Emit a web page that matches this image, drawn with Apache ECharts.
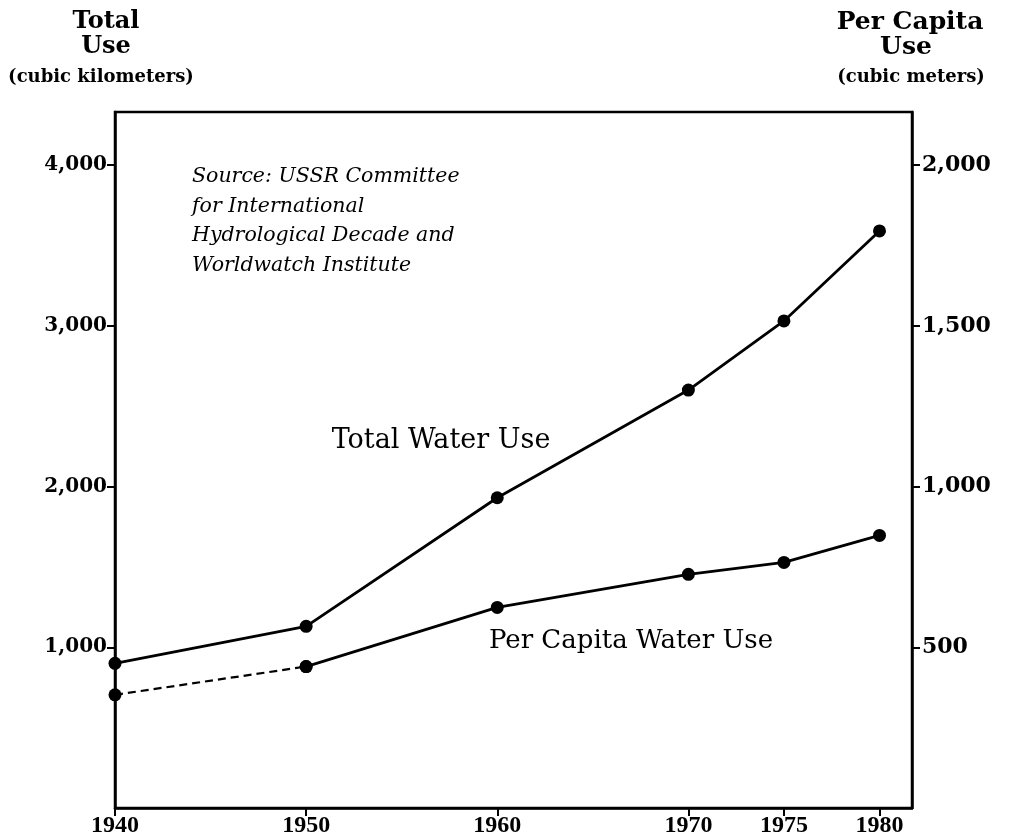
<!DOCTYPE html>
<html>
<head>
<meta charset="utf-8">
<script src="https://cdn.jsdelivr.net/npm/echarts@6/dist/echarts.min.js"></script>
<style>html,body{margin:0;padding:0;background:#fff;}#c{width:1013px;height:838px;}</style>
</head>
<body>
<div id="c"></div>
<script>
const years = [1940, 1950, 1960, 1970, 1975, 1980];
const totalUse = [900, 1130, 1930, 2600, 3030, 3590];
const perCapitaUse = [352, 440, 624, 727, 764, 848];
const xTicks = [1940, 1950, 1960, 1970, 1975, 1980];
const leftTicks = [1000, 2000, 3000, 4000];
const rightTicks = [500, 1000, 1500, 2000];
const sourceLines = ['Source: USSR Committee', 'for International', 'Hydrological Decade and', 'Worldwatch Institute'];

const chart = echarts.init(document.getElementById('c'));
const serif = 'DejaVu Serif';
const fmt = v => v.toLocaleString('en-US');
const pts = (xs, ys) => xs.map((x, i) => [x, ys[i]]);
const totalPts = pts(years, totalUse);
const pcPts = pts(years, perCapitaUse);

chart.setOption({
  animation: false,
  grid: {left: 115, right: 101, top: 112, bottom: 30, show: true, borderColor: '#000', borderWidth: 2.5},
  xAxis: {
    type: 'value', min: 1940, max: 1981.7,
    axisLine: {show: true, lineStyle: {color: '#000', width: 2.5}},
    axisTick: {show: true, length: 8, lineStyle: {color: '#000', width: 2}, customValues: xTicks},
    axisLabel: {customValues: xTicks, color: '#000', fontFamily: 'Liberation Serif', fontWeight: 'bold', fontSize: 24, margin: 6, formatter: v => String(v)},
    splitLine: {show: false}
  },
  yAxis: [
    {
      type: 'value', min: 0, max: 4330, position: 'left',
      axisLine: {show: true, lineStyle: {color: '#000', width: 2.5}},
      axisTick: {show: true, length: 8, lineStyle: {color: '#000', width: 2}, customValues: leftTicks},
      axisLabel: {customValues: leftTicks, color: '#000', fontFamily: serif, fontWeight: 'bold', fontSize: 20, margin: 8, formatter: fmt},
      splitLine: {show: false}
    },
    {
      type: 'value', min: 0, max: 2165, position: 'right',
      axisLine: {show: true, lineStyle: {color: '#000', width: 2.5}},
      axisTick: {show: true, length: 8, lineStyle: {color: '#000', width: 2}, customValues: rightTicks},
      axisLabel: {customValues: rightTicks, color: '#000', fontFamily: serif, fontWeight: 'bold', fontSize: 22, margin: 10, formatter: fmt},
      splitLine: {show: false}
    }
  ],
  series: [
    {type: 'line', yAxisIndex: 0, data: totalPts, symbol: 'circle', symbolSize: 13,
     itemStyle: {color: '#000'}, lineStyle: {color: '#000', width: 2.8}},
    {type: 'line', yAxisIndex: 1, data: pcPts.slice(0, 2), symbol: 'circle', symbolSize: 13,
     itemStyle: {color: '#000'}, lineStyle: {color: '#000', width: 2.2, type: [8, 5]}},
    {type: 'line', yAxisIndex: 1, data: pcPts.slice(1), symbol: 'circle', symbolSize: 13,
     itemStyle: {color: '#000'}, lineStyle: {color: '#000', width: 2.8}}
  ],
  graphic: [
    {type: 'text', style: {text: 'Total', x: 106, y: 22, align: 'center', verticalAlign: 'middle', font: 'bold 24px "DejaVu Serif"', fill: '#000'}},
    {type: 'text', style: {text: 'Use', x: 106, y: 47, align: 'center', verticalAlign: 'middle', font: 'bold 24px "DejaVu Serif"', fill: '#000'}},
    {type: 'text', style: {text: '(cubic kilometers)', x: 101, y: 77, align: 'center', verticalAlign: 'middle', font: 'bold 18px "DejaVu Serif"', fill: '#000'}},
    {type: 'text', style: {text: 'Per Capita', x: 910, y: 22, align: 'center', verticalAlign: 'middle', font: 'bold 25px "DejaVu Serif"', fill: '#000'}},
    {type: 'text', style: {text: 'Use', x: 906, y: 47, align: 'center', verticalAlign: 'middle', font: 'bold 25px "DejaVu Serif"', fill: '#000'}},
    {type: 'text', style: {text: '(cubic meters)', x: 911, y: 77, align: 'center', verticalAlign: 'middle', font: 'bold 18px "DejaVu Serif"', fill: '#000'}},
    {type: 'text', style: {text: 'Total Water Use', x: 441, y: 441, align: 'center', verticalAlign: 'middle', font: '27px "DejaVu Serif"', fill: '#000'}},
    {type: 'text', style: {text: 'Per Capita Water Use', x: 631, y: 641, align: 'center', verticalAlign: 'middle', font: '26px "DejaVu Serif"', fill: '#000'}},
    ...sourceLines.map((t, i) => ({type: 'text', style: {text: t, x: 192, y: 177 + i * 29.5, align: 'left', verticalAlign: 'middle', font: 'italic 20.5px "DejaVu Serif"', fill: '#000'}}))
  ]
});
</script>
</body>
</html>
